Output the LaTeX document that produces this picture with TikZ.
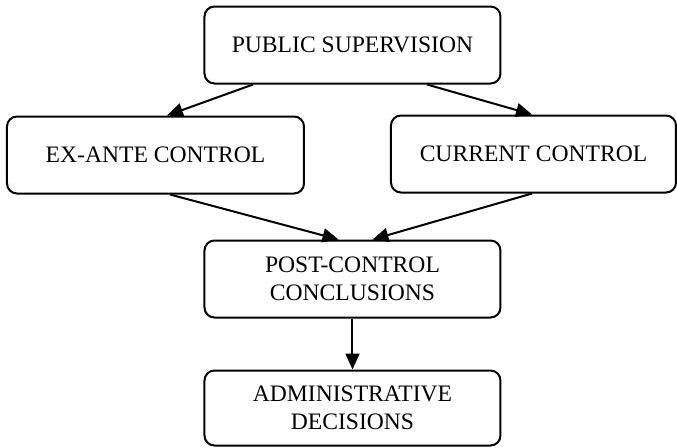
\documentclass[tikz,border=0pt]{standalone}
\usepackage{fontspec}
\setmainfont{Liberation Serif}
\usetikzlibrary{positioning,arrows.meta}
\tikzstyle{block}=[draw, rounded corners=5pt, line width=1pt, minimum width=148pt, minimum height=38.5pt, align=center, inner sep=2pt, font=\fontsize{11.8}{14}\selectfont]
\tikzstyle{arr}=[-{Triangle[length=8pt,width=7pt]}, line width=1pt]
\newcommand{\myedge}[2]{ \draw[arr] #1 -- #2;}

\begin{document}
\begin{tikzpicture}[node distance=16pt]
    \useasboundingbox (0,0) rectangle (338.5pt,-223.5pt);
    % top of the scheme
    \node[block] (pub) at (176.25pt,-22.5pt) {PUBLIC SUPERVISION};

    \node[block, minimum width=148.5pt] (exante) [below=15.5pt of pub.south, xshift=-98.5pt] {EX-ANTE CONTROL};
    \node[block, minimum width=142.5pt] (current) [below=15pt of pub.south, xshift=90.5pt] {CURRENT CONTROL};

    \node[block] (post) [below=77.5pt of pub] {POST-CONTROL\\CONCLUSIONS};
    \node[block, minimum height=37.5pt] (admin) [below=25.5pt of post] {ADMINISTRATIVE\\DECISIONS};

    \myedge{([xshift=-49.75pt]pub.south)}{([xshift=5.75pt]exante.north)}
    \myedge{([xshift=37.25pt]pub.south)}{([xshift=-0.75pt]current.north)}
    \myedge{([xshift=7.25pt]exante.south)}{([xshift=-7pt]post.north)}
    \myedge{([xshift=-0.75pt]current.south)}{([xshift=10pt]post.north)}
    \myedge{(post.south)}{(post.south |- admin.north)}
\end{tikzpicture}
\end{document}
